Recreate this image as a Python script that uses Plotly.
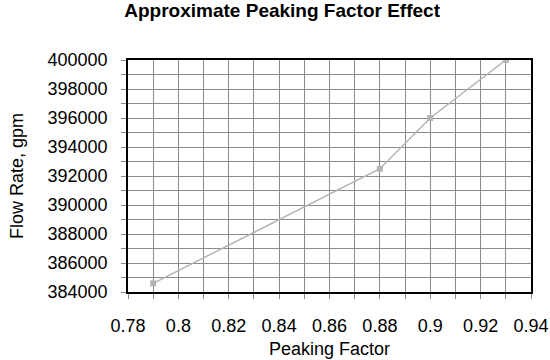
import plotly.graph_objects as go

peaking_factor = [0.79, 0.88, 0.90, 0.93]
flow_rate = [384600, 392500, 396000, 400000]

title = "Approximate Peaking Factor Effect"
x_title = "Peaking Factor"
y_title = "Flow Rate, gpm"

fig = go.Figure()
fig.add_trace(go.Scatter(
    x=peaking_factor, y=flow_rate, mode="lines+markers",
    line=dict(color="#b4b4b4", width=1.5),
    marker=dict(symbol="square", size=6, color="#b4b4b4"),
    showlegend=False,
))

font = "Liberation Sans, Arial, sans-serif"
fig.update_layout(
    width=550, height=360,
    margin=dict(l=128, r=19, t=60, b=68),
    paper_bgcolor="white", plot_bgcolor="white",
    font=dict(family=font, size=18, color="black"),
    title=dict(text="<b>" + title + "</b>", x=0.513, xanchor="center", y=0.97, yanchor="middle",
               font=dict(size=19)),
    xaxis=dict(
        range=[0.78, 0.94], dtick=0.02, tick0=0.78,
        showgrid=True, gridcolor="#8a8a8a", gridwidth=1,
        minor=dict(dtick=0.01, showgrid=True, gridcolor="#8a8a8a", ticks="outside",
                   ticklen=5, tickcolor="#8a8a8a"),
        ticks="outside", ticklen=5, tickcolor="#8a8a8a",
        showline=True, linecolor="black", linewidth=1.5, mirror=True,
        zeroline=False, ticklabelstandoff=12, automargin=False,
        title=dict(text=x_title, standoff=7, font=dict(size=18)),
        tickfont=dict(size=18),
    ),
    yaxis=dict(
        range=[384000, 400000], dtick=2000, tick0=384000, tickformat="d",
        showgrid=True, gridcolor="#8a8a8a", gridwidth=1,
        minor=dict(dtick=1000, showgrid=True, gridcolor="#8a8a8a", ticks="outside",
                   ticklen=5, tickcolor="#8a8a8a"),
        ticks="outside", ticklen=5, tickcolor="#8a8a8a",
        showline=True, linecolor="black", linewidth=1.5, mirror=True,
        zeroline=False, ticklabelstandoff=10, automargin=False,
        title=dict(text=y_title, standoff=19, font=dict(size=18)),
        tickfont=dict(size=18),
    ),
)

fig.write_html("out.html")
